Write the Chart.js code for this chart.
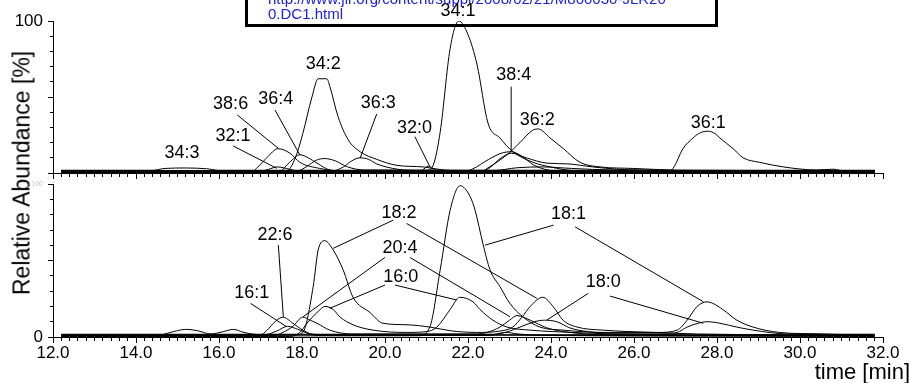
<!DOCTYPE html>
<html lang="en">
  <head>
    <meta charset="UTF-8" />
    <title>Ion chromatograms</title>
    <script src="https://cdn.jsdelivr.net/npm/chart.js"></script>
    <style>
      body {
        margin: 0;
        padding: 0;
        background: #fff;
        font-family: "Liberation Sans", Arial, sans-serif;
      }
      #wrap {
        position: relative;
        width: 912px;
        height: 383px;
        overflow: hidden;
        background: #fff;
      }
      canvas {
        position: absolute;
        left: 0;
      }
      .ytitle {
        position: absolute;
        left: 22px;
        top: 173px;
        transform: translate(-50%, -50%) rotate(-90deg);
        white-space: nowrap;
        font-size: 23px;
        color: #000;
      }
      .xtitle {
        position: absolute;
        right: 2px;
        top: 361px;
        font-size: 22px;
        line-height: 22px;
        color: #000;
      }
      .linkbox {
        position: absolute;
        left: 245px;
        top: -14px;
        width: 473px;
        height: 41px;
        box-sizing: border-box;
        border: 3px solid #000;
        padding: 2px 0 0 20px;
        font-size: 15px;
        line-height: 15px;
        color: #2020e0;
        white-space: nowrap;
      }
    </style>
  </head>
  <body>
    <div id="wrap">
      <canvas id="topChart" width="912" height="180" style="top:0"></canvas>
      <canvas id="botChart" width="912" height="208" style="top:175px"></canvas>
      <div class="ytitle">Relative Abundance [%]</div>
      <div class="xtitle">time [min]</div>
      <div class="linkbox">http://www.jlr.org/content/suppl/2008/02/21/M800030-JLR20<br />0.DC1.html</div>
    </div>

    <script>
      // ---- top panel: lipid species traces [time (min), relative abundance (%)] ----
      const tr34_1 = [[12.2,0.8],[20.8,0.8],[21.0,1.5],[21.16,5],[21.33,27],[21.57,82],[21.78,100],[22.0,91],[22.22,71],[22.48,33],[22.77,23],[23.08,14],[23.57,7],[23.98,4],[24.6,1.5],[31.8,0.8]];
      const tr34_2 = [[12.2,0.5],[17.5,0.5],[17.71,3],[17.88,13],[18.02,26],[18.24,50],[18.39,62],[18.6,62],[18.67,57],[18.87,37],[19.11,22],[19.4,14],[19.8,9],[20.29,5],[20.92,4],[21.4,2],[22.5,1],[31.8,0.5]];
      const tr38_6 = [[12.2,1],[16.8,1],[16.9,3],[17.15,10],[17.42,16],[17.71,13],[17.95,7],[18.43,3],[19.0,1.2],[31.8,1]];
      const tr36_4 = [[12.2,0.3],[17.3,0.3],[17.47,1],[17.7,7],[17.95,12],[18.15,10],[18.36,6.5],[18.67,2],[19.2,0.8],[31.8,0.3]];
      const tr36_3 = [[12.2,1.2],[18.7,1.2],[19.0,4],[19.2,8],[19.4,10],[19.6,9],[19.8,6],[20.3,2.5],[20.9,1.5],[31.8,1.2]];
      const tr32_1 = [[12.2,0.6],[16.9,0.6],[17.2,2.5],[17.4,4],[17.7,2.5],[18.0,0.8],[31.8,0.6]];
      const trMinorA = [[12.2,1.5],[17.9,1.5],[18.1,4],[18.35,8.5],[18.55,9.5],[18.8,8],[19.1,4],[19.5,2],[31.8,1.5]];
      const tr34_3 = [[12.2,1.8],[14.4,1.8],[14.7,3],[15.2,3.3],[15.7,2.8],[16.0,1.8],[31.8,1.8]];
      const tr32_0 = [[12.2,0.2],[20.7,0.2],[20.9,2],[21.05,4.5],[21.2,2],[21.5,0.5],[31.8,0.2]];
      const tr38_4 = [[12.2,0.9],[21.9,0.9],[22.1,2.5],[22.5,9],[22.8,13],[23.05,14],[23.3,11],[23.6,5],[24.1,1.5],[31.8,0.9]];
      const trMinorB = [[12.2,1.3],[22.3,1.3],[22.5,3],[22.8,10],[23.05,13],[23.4,10],[23.9,6.5],[24.4,6],[25.0,4],[25.6,2.5],[26.2,1.8],[31.8,1.3]];
      const trMinorC = [[12.2,1.6],[22.6,1.6],[23.2,3.5],[23.8,4],[24.5,3],[25.5,2],[31.8,1.6]];
      const tr36_2 = [[12.2,0.4],[22.3,0.4],[22.46,3],[22.94,12],[23.25,20],[23.55,28],[23.69,29],[23.98,23],[24.3,16],[24.7,7],[25.18,4],[25.98,3],[26.8,2],[27.5,1],[31.8,0.4]];
      const tr36_1 = [[12.2,0.7],[26.8,0.7],[26.94,3],[27.18,16],[27.42,23],[27.6,26.5],[27.78,27.5],[27.95,26],[28.07,23],[28.39,16],[28.63,10],[29.03,7],[29.6,4],[30.4,2],[30.8,2.5],[31.1,1],[31.8,0.7]];

      // ---- bottom panel: fatty acid ion traces ----
      const fa18_1 = [[12.2,0.6],[20.8,0.8],[21.08,6.5],[21.33,44],[21.57,83],[21.81,99],[22.05,92],[22.17,83],[22.36,61],[22.53,44],[22.77,33],[23.01,22],[23.33,13],[23.73,6.5],[24.29,4.5],[25.25,3],[26.6,3],[27.04,4.5],[27.28,11],[27.52,20],[27.76,23],[27.9,22],[28.14,18],[28.48,11],[28.87,6.5],[29.5,3],[30.5,2],[31.8,1]];
      const fa18_2 = [[12.2,1.2],[17.8,1.2],[18.02,3],[18.27,33],[18.39,57],[18.55,63],[18.75,57],[18.99,44],[19.23,26],[19.64,16],[19.95,9],[20.53,8],[21.08,6.5],[21.6,4],[22.2,3],[22.8,4],[23.08,6.5],[23.3,13],[23.5,20],[23.8,26],[24.05,20],[24.29,11],[24.63,6.5],[25.25,4.5],[26.46,3],[27.5,2],[31.8,1.2]];
      const fa16_0 = [[12.2,0.3],[17.7,0.3],[17.95,3],[18.12,9],[18.4,17],[18.55,20],[18.75,18],[18.92,13],[19.23,8],[19.71,4.5],[20.5,3],[21.0,3.5],[21.25,6.5],[21.57,18],[21.8,26],[22.12,23],[22.29,18],[22.6,11],[22.94,6.5],[23.5,4.5],[24.5,3],[25.5,2],[31.8,0.3]];
      const fa20_4 = [[12.2,0.9],[17.3,0.9],[17.54,3],[17.78,7],[18.02,13],[18.2,11],[18.36,9],[18.67,4.5],[19.2,2],[22.2,2],[22.46,3],[22.77,6.5],[23.0,11],[23.18,14],[23.5,11],[23.9,6],[24.45,3],[25.3,1.5],[31.8,0.9]];
      const fa22_6 = [[12.2,0.4],[16.8,0.4],[16.99,1],[17.16,4.5],[17.35,10],[17.54,13],[17.78,9],[18.02,4.5],[18.36,1],[22.5,1],[22.9,3],[23.2,2],[23.8,1],[31.8,0.4]];
      const fa16_1 = [[12.2,1.5],[17.1,1.5],[17.4,4],[17.65,7],[17.9,5],[18.2,2],[18.6,1.5],[31.8,1.5]];
      const fa18_0 = [[12.2,1.8],[22.6,1.8],[22.9,3],[23.3,7],[23.6,10],[23.85,11],[24.14,10],[24.45,6],[24.9,3.5],[25.6,2.5],[26.8,2.5],[27.04,3],[27.28,6.5],[27.55,9],[27.76,10],[28.07,9],[28.48,6.5],[28.87,4.5],[29.7,2],[31.8,1.8]];
      const faMinor = [[12.2,1],[14.5,1],[14.9,3.5],[15.2,5],[15.5,4],[15.8,2],[16.1,3.5],[16.35,5],[16.6,3],[17.0,1.5],[31.8,1]];

      const topTraces = [tr34_1, tr34_2, tr38_6, tr36_4, tr36_3, tr32_1, trMinorA, tr34_3, tr32_0, tr38_4, trMinorB, trMinorC, tr36_2, tr36_1];
      const botTraces = [fa18_1, fa18_2, fa16_0, fa20_4, fa22_6, fa16_1, fa18_0, faMinor];

      // peak labels: text, label centre (time, %), leader lines [t1, v1, t2, v2]
      const topLabels = [
        { text: "34:3", t: 15.11, v: 13.4 },
        { text: "32:1", t: 16.34, v: 24.3, lines: [[16.34, 17.8, 17.39, 3.1]] },
        { text: "38:6", t: 16.28, v: 45.2, lines: [[16.44, 38.2, 17.43, 16.2]] },
        { text: "36:4", t: 17.37, v: 48.5, lines: [[17.35, 41.4, 17.95, 11.8]] },
        { text: "34:2", t: 18.51, v: 71.5 },
        { text: "36:3", t: 19.84, v: 45.8, lines: [[19.8, 38.8, 19.4, 9.7]] },
        { text: "32:0", t: 20.71, v: 29.8, lines: [[20.72, 23.9, 21.08, 4.2]] },
        { text: "34:1", t: 21.76, v: 106.6 },
        { text: "38:4", t: 23.1, v: 64.5, lines: [[23.04, 56.8, 23.04, 14.0]] },
        { text: "36:2", t: 23.67, v: 34.9 },
        { text: "36:1", t: 27.79, v: 32.7 },
      ];
      const botLabels = [
        { text: "22:6", t: 17.35, v: 66.7, lines: [[17.43, 60.1, 17.55, 13.3]] },
        { text: "16:1", t: 16.79, v: 28.5, lines: [[16.76, 22, 17.63, 6.7]] },
        { text: "18:2", t: 20.34, v: 81.3, lines: [[20.2, 76.5, 18.75, 58], [20.52, 74.3, 23.66, 25.3]] },
        { text: "20:4", t: 20.36, v: 58, lines: [[20.0, 52.1, 18.03, 13.3], [20.6, 52.1, 23.01, 13.3]] },
        { text: "16:0", t: 20.38, v: 39.4, lines: [[20.0, 34, 18.67, 18.8], [20.24, 34, 21.73, 24.2]] },
        { text: "18:1", t: 24.42, v: 80.8, lines: [[24.06, 73.2, 22.41, 60.1], [24.58, 72.1, 27.67, 23.1]] },
        { text: "18:0", t: 25.26, v: 35.8, lines: [[24.9, 28.6, 23.9, 11.1], [25.42, 26.8, 27.67, 9]] },
      ];

      const FONT = "'Liberation Sans', Arial, sans-serif";

      const peakLabels = {
        id: "peakLabels",
        afterDatasetsDraw(chart, args, opts) {
          const { ctx } = chart;
          const x = chart.scales.x;
          const y = chart.scales.y;
          ctx.save();
          ctx.strokeStyle = "#000";
          ctx.lineWidth = 1;
          ctx.fillStyle = "#000";
          ctx.font = "18px " + FONT;
          ctx.textAlign = "center";
          ctx.textBaseline = "middle";
          opts.items.forEach((it) => {
            (it.lines || []).forEach((l) => {
              ctx.beginPath();
              ctx.moveTo(x.getPixelForValue(l[0]), y.getPixelForValue(l[1]));
              ctx.lineTo(x.getPixelForValue(l[2]), y.getPixelForValue(l[3]));
              ctx.stroke();
            });
            ctx.fillText(it.text, x.getPixelForValue(it.t), y.getPixelForValue(it.v));
          });
          ctx.restore();
        },
      };

      function isMajorX(v) {
        return Math.abs(v / 2 - Math.round(v / 2)) < 1e-6;
      }

      function yLabel(v, isBottom) {
        if (!isBottom && v === 100) return "100";
        if (isBottom && (v === 0 || v === 100)) return String(v);
        return "";
      }

      function makeChart(id, traces, labels, isBottom) {
        return new Chart(document.getElementById(id), {
          type: "line",
          data: {
            datasets: traces.map((tr) => ({
              data: tr.map((p) => ({ x: p[0], y: p[1] })),
              borderColor: "#000",
              borderWidth: 1,
              pointRadius: 0,
              fill: false,
              cubicInterpolationMode: "monotone",
            })),
          },
          options: {
            responsive: false,
            animation: false,
            events: [],
            layout: { padding: { top: isBottom ? 0 : 21, right: 29, left: 0, bottom: 0 } },
            plugins: {
              legend: { display: false },
              tooltip: { enabled: false },
              peakLabels: { items: labels },
            },
            scales: {
              x: {
                type: "linear",
                min: 12,
                max: 32,
                afterFit: (s) => { s.height = isBottom ? 46 : 7; },
                border: { display: true, color: "#000", width: 1 },
                grid: {
                  drawOnChartArea: false,
                  drawTicks: true,
                  tickLength: 6,
                  tickColor: "#000",
                  tickWidth: 1,
                  tickBorderDash: (c) => (c.tick && isMajorX(c.tick.value) ? [] : [3, 20]),
                },
                ticks: {
                  stepSize: 0.2,
                  maxTicksLimit: 200,
                  autoSkip: false,
                  maxRotation: 0,
                  padding: 0,
                  color: "#000",
                  font: { family: FONT, size: 17 },
                  callback: (v) => (isBottom && isMajorX(v) ? v.toFixed(1) : ""),
                },
              },
              y: {
                min: 0,
                max: 100,
                afterFit: (s) => { s.width = 53; },
                border: { display: true, color: "#000", width: 1 },
                grid: {
                  drawOnChartArea: false,
                  drawTicks: true,
                  tickLength: 5,
                  tickColor: "#000",
                  tickWidth: 1,
                  tickBorderDash: (c) => (c.tick && c.tick.value % 50 === 0 ? [] : [0, 2, 3, 10]),
                },
                ticks: {
                  stepSize: 10,
                  autoSkip: false,
                  padding: 5,
                  color: (c) => (isBottom && c.tick && c.tick.value === 100 ? "#c8c8c8" : "#000"),
                  font: (c) => {
                    const v = c.tick ? c.tick.value : 0;
                    let size = 17;
                    if (yLabel(v, isBottom) === "") size = 1;
                    else if (isBottom && v === 100) size = 7;
                    return { family: FONT, size: size };
                  },
                  callback: (v) => yLabel(v, isBottom),
                },
              },
            },
          },
          plugins: [peakLabels],
        });
      }

      makeChart("topChart", topTraces, topLabels, false);
      makeChart("botChart", botTraces, botLabels, true);
    </script>
  </body>
</html>
